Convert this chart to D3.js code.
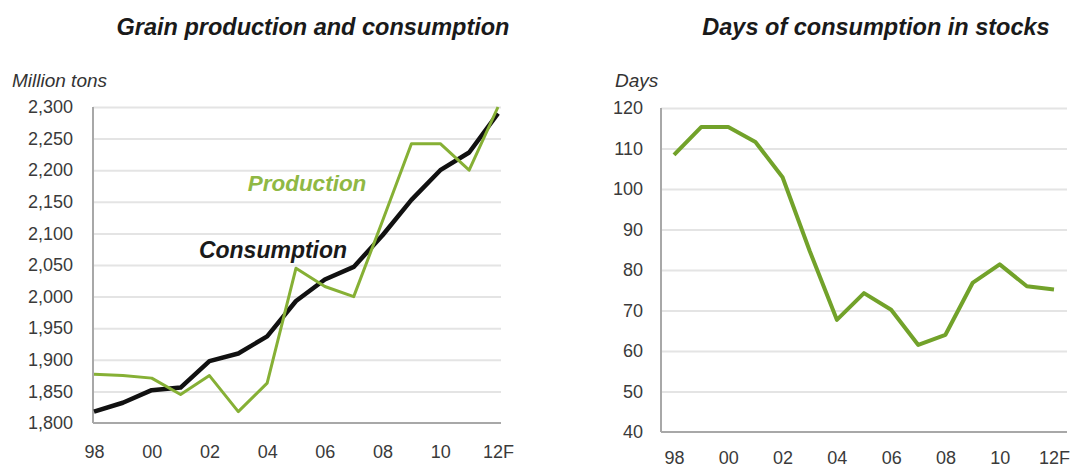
<!DOCTYPE html>
<html>
<head>
<meta charset="utf-8">
<script src="https://cdn.jsdelivr.net/npm/d3@7"></script>
<style>
  html, body { margin: 0; padding: 0; background: #fff; }
  svg { display: block; font-family: "Liberation Sans", Arial, sans-serif; }
  .tick text { fill: #3a3a3a; font-size: 18px; }
  .grid line { stroke: #e4e4e4; stroke-width: 2; }
  .grid .domain { display: none; }
  .axis .domain { stroke: #a8a8a8; stroke-width: 2; }
  .axis .tick line { display: none; }
</style>
</head>
<body>
<div id="chart"></div>
<script>
// data
const years = [1998, 1999, 2000, 2001, 2002, 2003, 2004, 2005, 2006, 2007, 2008, 2009, 2010, 2011, 2012];
const production = [1877, 1875, 1871, 1845, 1875, 1818, 1863, 2045, 2016, 2000, 2120, 2242, 2242, 2200, 2300];
const consumption = [1818, 1832, 1852, 1856, 1898, 1910, 1937, 1993, 2027, 2047, 2097, 2153, 2200, 2228, 2290];
const daysInStocks = [108.4, 115.3, 115.3, 111.6, 102.9, 84.7, 67.7, 74.3, 70.2, 61.5, 64, 76.8, 81.4, 76, 75.2];
const xTickYears = [1998, 2000, 2002, 2004, 2006, 2008, 2010, 2012];
const xTickLabels = ["98", "00", "02", "04", "06", "08", "10", "12F"];
const tonsTicks = [1800, 1850, 1900, 1950, 2000, 2050, 2100, 2150, 2200, 2250, 2300];
const daysTicks = [40, 50, 60, 70, 80, 90, 100, 110, 120];

const W = 1070, H = 468;
const svg = d3.select("#chart").append("svg").attr("width", W).attr("height", H);

const xLabel = d => xTickLabels[xTickYears.indexOf(d)];

function panel(opts) {
    const x = d3.scaleLinear().domain([1998, 2012]).range(opts.xRange);
    const y = d3.scaleLinear().domain(opts.yDomain).range(opts.yRange);
    const g = svg.append("g");

    // horizontal gridlines
    g.append("g").attr("class", "grid")
        .attr("transform", `translate(${opts.axisX},0)`)
        .call(d3.axisLeft(y).tickValues(opts.ticks.slice(1)).tickSize(-(opts.gridEnd - opts.axisX)).tickFormat(""));

    // y axis
    const ya = g.append("g").attr("class", "axis")
        .attr("transform", `translate(${opts.axisX},0)`)
        .call(d3.axisLeft(y).tickValues(opts.ticks).tickFormat(opts.fmt).tickSize(0).tickPadding(opts.yPad));
    ya.select(".domain").attr("d", `M0,${opts.yRange[1]}V${opts.yRange[0]}`);

    // x axis
    const xa = g.append("g").attr("class", "axis")
        .attr("transform", `translate(0,${opts.yRange[0]})`)
        .call(d3.axisBottom(x).tickValues(xTickYears).tickFormat(xLabel).tickSize(0).tickPadding(opts.xPad));
    xa.select(".domain").attr("d", `M${opts.axisX},0H${opts.gridEnd}`);

    // axis unit label
    g.append("text")
        .attr("x", opts.unitX).attr("y", 87)
        .attr("font-size", 19).attr("font-style", "italic").attr("fill", "#333")
        .text(opts.unit);

    // title
    g.append("text")
        .attr("x", opts.titleX).attr("y", 35)
        .attr("text-anchor", "middle")
        .attr("font-size", opts.titleSize).attr("font-weight", "bold").attr("font-style", "italic")
        .attr("fill", "#1a1a1a")
        .text(opts.title);

    return { g, x, y };
}

// left panel: grain production and consumption
const left = panel({
    xRange: [94, 498], yDomain: [1800, 2300], yRange: [423, 107],
    axisX: 93, gridEnd: 501, ticks: tonsTicks, fmt: d3.format(","),
    yPad: 20, xPad: 22, unit: "Million tons", unitX: 12,
    title: "Grain production and consumption", titleX: 313, titleSize: 23.5
});

const lineL = d3.line().x((d, i) => left.x(years[i])).y(d => left.y(d));
left.g.append("path").datum(consumption)
    .attr("d", lineL).attr("fill", "none").attr("stroke", "#111").attr("stroke-width", 4.5)
    .attr("stroke-linejoin", "round");
left.g.append("path").datum(production)
    .attr("d", lineL).attr("fill", "none").attr("stroke", "#86b035").attr("stroke-width", 3)
    .attr("stroke-linejoin", "round");

left.g.append("text").attr("x", 307).attr("y", 191).attr("text-anchor", "middle")
    .attr("font-size", 22.5).attr("font-weight", "bold").attr("font-style", "italic")
    .attr("fill", "#8fb844").text("Production");
left.g.append("text").attr("x", 273).attr("y", 258).attr("text-anchor", "middle")
    .attr("font-size", 23).attr("font-weight", "bold").attr("font-style", "italic")
    .attr("fill", "#1a1a1a").text("Consumption");

// right panel: days of consumption in stocks
const right = panel({
    xRange: [674, 1054], yDomain: [40, 120], yRange: [432, 108],
    axisX: 661, gridEnd: 1067, ticks: daysTicks, fmt: d3.format("d"),
    yPad: 18, xPad: 19, unit: "Days", unitX: 615,
    title: "Days of consumption in stocks", titleX: 876, titleSize: 23.5
});

const lineR = d3.line().x((d, i) => right.x(years[i])).y(d => right.y(d));
right.g.append("path").datum(daysInStocks)
    .attr("d", lineR).attr("fill", "none").attr("stroke", "#72a22a").attr("stroke-width", 4)
    .attr("stroke-linejoin", "round");
</script>
</body>
</html>
